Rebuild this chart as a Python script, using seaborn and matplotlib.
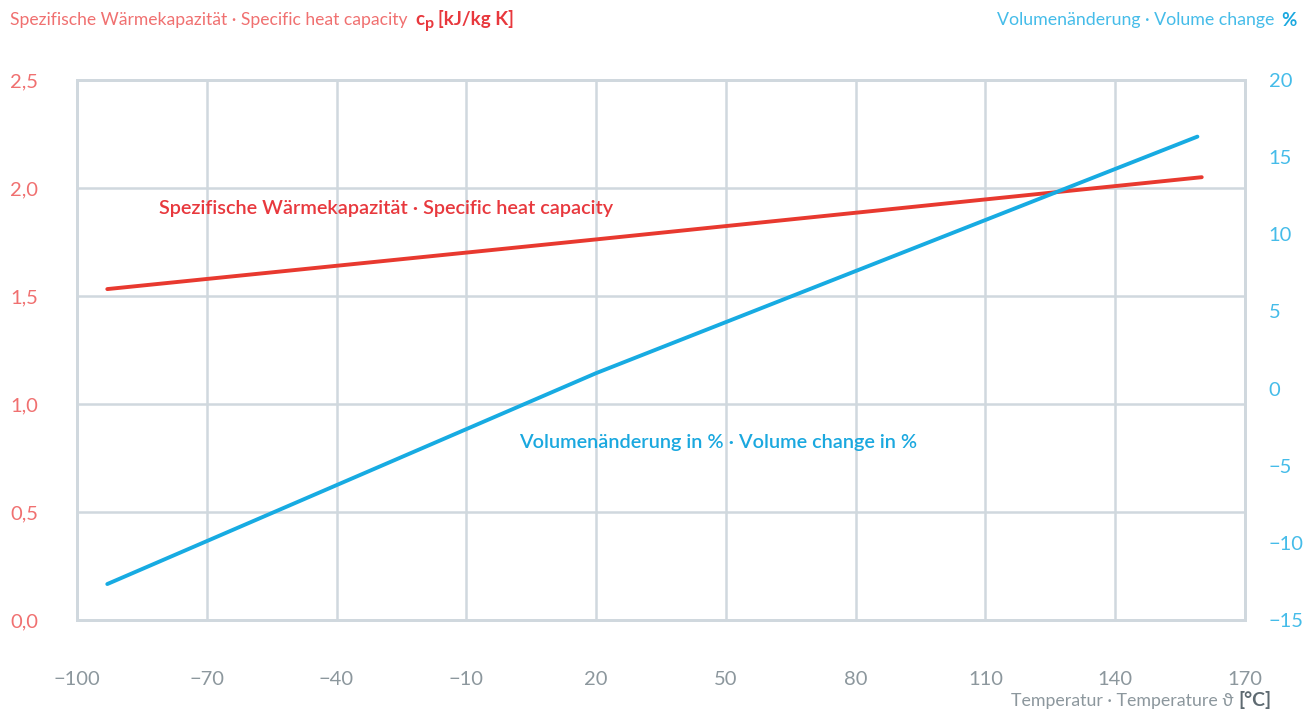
import matplotlib
matplotlib.use("Agg")
import matplotlib.pyplot as plt
import seaborn as sns
import pandas as pd
from matplotlib.ticker import FixedLocator, FuncFormatter

# ---- data ----
temp_cp = [-93, 20, 160]
cp_values = [1.532, 1.762, 2.05]
temp_vol = [-93, 20, 159]
vol_values = [-12.67, 1.0, 16.33]
x_ticks = [-100, -70, -40, -10, 20, 50, 80, 110, 140, 170]
cp_ticks = [0.0, 0.5, 1.0, 1.5, 2.0, 2.5]
vol_ticks = [-15, -10, -5, 0, 5, 10, 15, 20]

title_left = "Spezifische Wärmekapazität · Specific heat capacity"
title_left_unit = "[kJ/kg K]"
title_right = "Volumenänderung · Volume change"
label_cp = "Spezifische Wärmekapazität · Specific heat capacity"
label_vol = "Volumenänderung in % · Volume change in %"
xlabel = "Temperatur · Temperature ϑ"

RED_LINE = "#E8392F"
RED_TXT = "#E8383D"
RED_LIGHT = "#F07070"
BLUE_LINE = "#17ABE2"
BLUE_TXT = "#1AA8DF"
BLUE_LIGHT = "#45BCE9"
GRID = "#D0D8DE"
GRAY = "#8C979D"
GRAY_DARK = "#5E6A71"

sns.set_style("white")
plt.rcParams["font.family"] = ["Lato", "DejaVu Sans"]
plt.rcParams["axes.unicode_minus"] = True

fig = plt.figure(figsize=(13.15, 7.13), dpi=100)
ax = fig.add_axes([77 / 1315, (713 - 620) / 713, (1245 - 77) / 1315, 540 / 713])
ax2 = ax.twinx()

df_cp = pd.DataFrame({"t": temp_cp, "v": cp_values})
df_vol = pd.DataFrame({"t": temp_vol, "v": vol_values})
sns.lineplot(data=df_cp, x="t", y="v", ax=ax, color=RED_LINE, linewidth=2.8,
             solid_capstyle="round", zorder=5)
sns.lineplot(data=df_vol, x="t", y="v", ax=ax2, color=BLUE_LINE, linewidth=2.8,
             solid_capstyle="round", zorder=5)

ax.set_xlim(-100, 170)
ax.set_ylim(0, 2.5)
ax2.set_ylim(-15, 20)
ax.xaxis.set_major_locator(FixedLocator(x_ticks))
ax.yaxis.set_major_locator(FixedLocator(cp_ticks))
ax2.yaxis.set_major_locator(FixedLocator(vol_ticks))
ax.xaxis.set_major_formatter(FuncFormatter(lambda v, p: f"{v:.0f}".replace("-", "\u2212")))
ax.yaxis.set_major_formatter(FuncFormatter(lambda v, p: f"{v:.1f}".replace(".", ",")))
ax2.yaxis.set_major_formatter(FuncFormatter(lambda v, p: f"{v:.0f}".replace("-", "\u2212")))

ax.grid(True, color=GRID, linewidth=1.8)
ax2.grid(False)
for a in (ax, ax2):
    for s in a.spines.values():
        s.set_visible(True)
        s.set_color(GRID)
        s.set_linewidth(2)
ax.set_xlabel("")
ax.set_ylabel("")
ax2.set_xlabel("")
ax2.set_ylabel("")

ax.tick_params(axis="x", length=0, pad=37, labelsize=14.5, labelcolor=GRAY)
ax.tick_params(axis="y", length=0, labelsize=14.5, labelcolor=RED_LIGHT)
ax2.tick_params(axis="y", length=0, pad=17, labelsize=14.5, labelcolor=BLUE_LIGHT)
for lab in ax.get_yticklabels():
    lab.set_horizontalalignment("left")
ax.yaxis.set_tick_params(pad=48)

# titles
t1 = fig.text(10 / 1315, 1 - 20 / 713, title_left, color=RED_LIGHT, fontsize=12.6,
              fontweight="normal", va="center", ha="left")
t2 = ax.annotate("c", xy=(1, 0), xycoords=t1, xytext=(6, 0), textcoords="offset points",
                 color=RED_TXT, fontsize=13.5, fontweight="bold", va="bottom", ha="left",
                 annotation_clip=False)
t3 = ax.annotate("p", xy=(1, 0), xycoords=t2, xytext=(0, -2), textcoords="offset points",
                 color=RED_TXT, fontsize=11.5, fontweight="bold", va="bottom", ha="left",
                 annotation_clip=False)
ax.annotate(title_left_unit, xy=(1, 0), xycoords=t3, xytext=(3, 2), textcoords="offset points",
            color=RED_TXT, fontsize=13.5, fontweight="bold", va="bottom", ha="left",
            annotation_clip=False)

r2 = fig.text(1 - 18 / 1315, 1 - 20 / 713, "%", color=BLUE_TXT, fontsize=13.5,
              fontweight="bold", va="center", ha="right")
ax.annotate(title_right, xy=(0, 0), xycoords=r2, xytext=(-5, 0), textcoords="offset points",
            color=BLUE_LIGHT, fontsize=12.8, fontweight="normal", va="bottom", ha="right",
            annotation_clip=False)

# x label
xr = fig.text(1 - 43 / 1315, 1 - 700 / 713, "[°C]", color=GRAY_DARK, fontsize=14,
              fontweight="bold", va="center", ha="right")
ax.annotate(xlabel, xy=(0, 0), xycoords=xr, xytext=(-4, 0), textcoords="offset points",
            color=GRAY, fontsize=12.8, fontweight="normal", va="bottom", ha="right",
            annotation_clip=False)

# in-chart labels
ax.text(-81, 1.905, label_cp, color=RED_TXT, fontsize=14.3, fontweight="semibold",
        va="center", ha="left")
ax.text(2.2, 0.82, label_vol, color=BLUE_TXT, fontsize=14.3, fontweight="semibold",
        va="center", ha="left")

fig.savefig("out.png", dpi=100)
